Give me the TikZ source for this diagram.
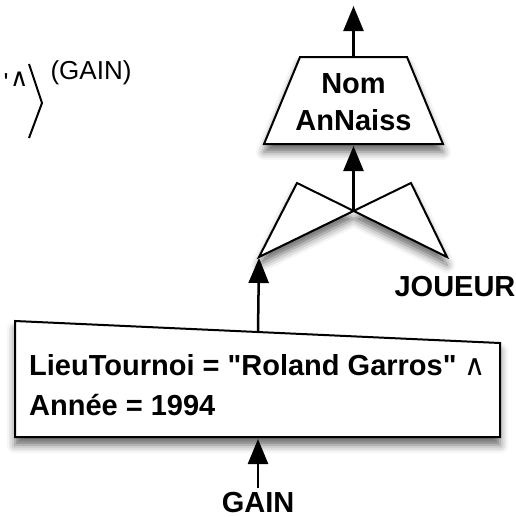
\documentclass[tikz,border=0pt]{standalone}
\usepackage{fontspec}
\setmainfont{Liberation Sans}[Ligatures=TeXOff]
\newfontfamily\symf{DejaVu Sans}
\usetikzlibrary{arrows.meta,shadows.blur}
\begin{document}
\begin{tikzpicture}[x=1pt,y=-1pt,
  opbox/.style={draw=black,line width=2pt,fill=white,line join=miter,
    blur shadow={shadow xshift=0pt,shadow yshift=-8pt,shadow blur radius=8pt,shadow opacity=60}},
  conn/.style={draw=black,line width=2.5pt,-{Triangle[length=25pt,width=20pt,fill=black]}},
  lbl/.style={font=\fontsize{29}{40}\selectfont\bfseries,inner sep=0pt},
  frag/.style={font=\fontsize{26}{28}\selectfont,inner sep=0pt},
]
\useasboundingbox (0,0) rectangle (516,517);
\clip (0,0) rectangle (516,517);

% fragment of a neighbouring expression (top left)
\node[frag,anchor=base west] (fragq) at (3.5,91) {'};
\node[anchor=base west,inner sep=0pt,font=\symf\fontsize{25}{28}\selectfont] (fragand) at (10,86) {∧};
\draw[line width=2pt] (29,64) -- (42,103) -- (29,138);
\node[frag,anchor=base] (fraggain) at (91,79) {(GAIN)};

% projection (trapezoid)
\coordinate (tTL) at (300,57);
\coordinate (tTR) at (407,57);
\coordinate (tBR) at (443,144);
\coordinate (tBL) at (264,144);
\path[opbox] (tTL) -- (tTR) -- (tBR) -- (tBL) -- cycle;
\node[lbl,anchor=base] (nom) at (353.5,93) {Nom};
\node[lbl,anchor=base] (annaiss) at (353.5,130) {AnNaiss};
\coordinate (projtop) at (353.5,57);
\coordinate (projbot) at (353.5,146);
\coordinate (out) at (353.5,6);

% join (bowtie)
\coordinate (jTL) at (297,183);
\coordinate (jTR) at (411,183);
\coordinate (jBR) at (447,257);
\coordinate (jBL) at (259,257);
\coordinate (jC) at (353.5,211);
\path[opbox] (jTL) -- (jBR) -- (jTR) -- (jBL) -- cycle;
\node[lbl,anchor=base] (joueur) at (455,296) {JOUEUR};

% selection (box with slanted top)
\coordinate (sTL) at (15,321);
\coordinate (sTR) at (500,343);
\coordinate (sBR) at (500,437);
\coordinate (sBL) at (15,437);
\path[opbox] (sTL) -- (sTR) -- (sBR) -- (sBL) -- cycle;
\node[lbl,anchor=base west] (cond1) at (29,375) {LieuTournoi = "Roland Garros" {\mdseries\symf ∧}};
\node[lbl,anchor=base west] (cond2) at (29,415) {Année = 1994};
\coordinate (seltop) at (258,332);
\coordinate (selbot) at (258,439);
\coordinate (jin) at (259,258);

\node[lbl,anchor=base] (gain) at (258,512) {GAIN};
\coordinate (gaintop) at (258,488);

% connectors
\draw[conn] (projtop) -- (out);
\draw[conn] (jC) -- (projbot);
\draw[conn] (seltop) -- (jin);
\draw[conn] (gaintop) -- (selbot);
\end{tikzpicture}
\end{document}
